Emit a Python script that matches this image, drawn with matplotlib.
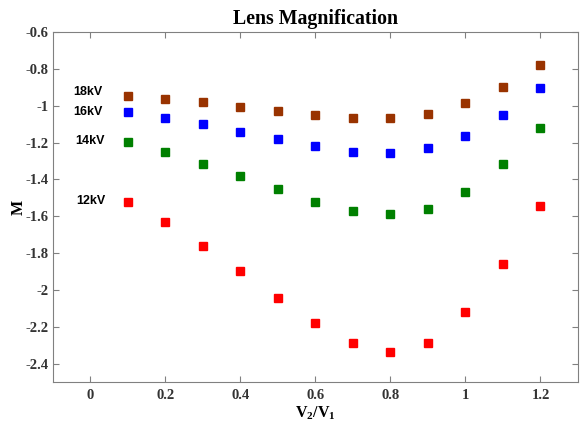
import matplotlib
matplotlib.use("Agg")
import matplotlib.pyplot as plt
from matplotlib.ticker import FuncFormatter

ratio = [0.1, 0.2, 0.3, 0.4, 0.5, 0.6, 0.7, 0.8, 0.9, 1.0, 1.1, 1.2]
m_18kv = [-0.948, -0.964, -0.980, -1.008, -1.030, -1.050, -1.067, -1.067,
          -1.043, -0.986, -0.896, -0.777]
m_16kv = [-1.035, -1.067, -1.102, -1.143, -1.183, -1.220, -1.250, -1.256,
          -1.229, -1.163, -1.051, -0.906]
m_14kv = [-1.196, -1.252, -1.316, -1.383, -1.455, -1.522, -1.573, -1.589,
          -1.560, -1.468, -1.316, -1.120]
m_12kv = [-1.524, -1.634, -1.760, -1.897, -2.042, -2.180, -2.287, -2.337,
          -2.286, -2.122, -1.859, -1.546]
series_names = ["18kV", "16kV", "14kV", "12kV"]
series_colors = ["#993300", "#0000ff", "#008000", "#ff0000"]
x_ticks = [0, 0.2, 0.4, 0.6, 0.8, 1.0, 1.2]
y_ticks = [-2.4, -2.2, -2.0, -1.8, -1.6, -1.4, -1.2, -1.0, -0.8, -0.6]

plt.rcParams["mathtext.fontset"] = "custom"
plt.rcParams["mathtext.bf"] = "Liberation Serif:bold"
plt.rcParams["mathtext.rm"] = "Liberation Serif:bold"

fig = plt.figure(figsize=(5.81, 4.29), dpi=100)
ax = fig.add_axes([0.0912, 0.1096, 0.9036, 0.8158])

all_series = [m_18kv, m_16kv, m_14kv, m_12kv]
for vals, c in zip(all_series, series_colors):
    ax.plot(ratio, vals, ls="none", marker="s", ms=5.5, color=c, mec=c)

# 시리즈 라벨 (왼쪽)
label_pos = [(-0.045, -0.925), (-0.045, -1.035), (-0.04, -1.19), (-0.037, -1.515)]
for name, (lx, ly) in zip(series_names, label_pos):
    ax.text(lx, ly, name, fontsize=9, fontweight="bold",
            family="Liberation Sans", va="center", ha="left")

ax.set_xlim(-0.1, 1.3)
ax.set_ylim(-2.5, -0.6)
ax.set_xticks(x_ticks)
ax.set_yticks(y_ticks)
fmt = FuncFormatter(lambda v, p: ("%g" % round(v, 2)).replace("\u2212", "-"))
ax.xaxis.set_major_formatter(fmt)
ax.yaxis.set_major_formatter(fmt)
ax.tick_params(direction="in", top=True, right=True, length=4,
               color="#808080", labelsize=10.5, labelcolor="#333333")
ax.tick_params(axis="x", pad=5)
ax.tick_params(axis="y", pad=3)
for lab in ax.get_xticklabels() + ax.get_yticklabels():
    lab.set_family("Liberation Serif")
    lab.set_fontweight("bold")
for s in ax.spines.values():
    s.set_color("#808080")

ax.set_title("Lens Magnification", fontsize=14.3, fontweight="bold",
             family="Liberation Serif", pad=6)
ax.set_xlabel(r"$\mathbf{V_2/V_1}$", fontsize=11.5, labelpad=2)
ax.set_ylabel("M", fontsize=11.5, fontweight="bold", family="Liberation Serif",
              labelpad=-1)

fig.savefig("out.png", dpi=100)
